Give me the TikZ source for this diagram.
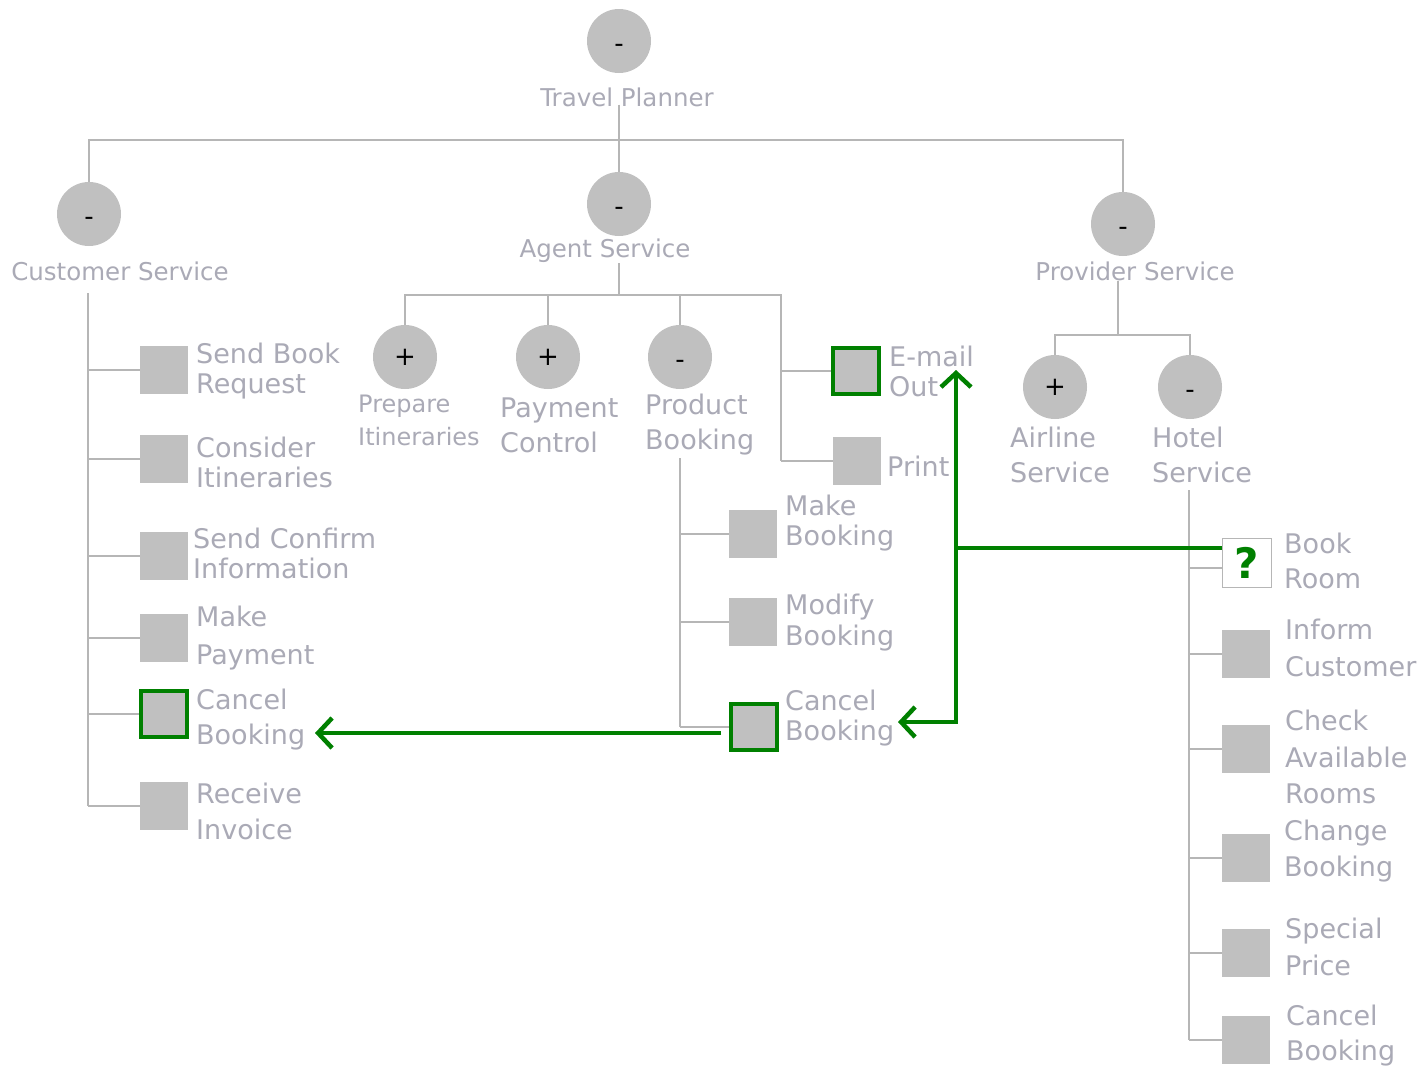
\documentclass[tikz,border=0pt]{standalone}
\usepackage{fontspec}
\setmainfont{DejaVu Sans}
\usetikzlibrary{arrows.meta}
\definecolor{linegray}{RGB}{182,182,182}
\definecolor{boxgray}{RGB}{192,192,192}
\definecolor{txtgray}{RGB}{170,170,182}
\definecolor{linkgreen}{RGB}{0,128,0}
\newcommand\lblfont[1]{\fontsize{27}{#1}\selectfont}
\newcommand\ttlfont{\fontsize{24.5}{29}\selectfont}
\newcommand\smlfont[1]{\fontsize{24}{#1}\selectfont}
\newcommand\minus{\smash{\raisebox{-11pt}{-}}}

\begin{document}
\begin{tikzpicture}[x=1pt,y=-1pt,
  goal/.style={circle, fill=boxgray, minimum size=64pt, inner sep=0pt,
               font=\fontsize{26}{26}\selectfont},
  task/.style={rectangle, fill=boxgray, minimum size=48pt, inner sep=0pt},
  picked/.style={rectangle, fill=boxgray, draw=linkgreen, line width=4pt,
                 minimum size=46pt, inner sep=0pt},
  query/.style={rectangle, fill=white, draw=linegray, line width=1.5pt,
                minimum size=49pt, inner sep=0pt, text=linkgreen,
                font=\bfseries\fontsize{42}{42}\selectfont},
  lbl/.style={text=txtgray, align=left, inner sep=0pt, anchor=west},
  ttl/.style={text=txtgray, inner sep=0pt, font=\ttlfont},
  tree/.style={draw=linegray, line width=2pt},
  link/.style={draw=linkgreen, line width=4.5pt},
  head/.style={-{Straight Barb[length=14pt,width=30pt,line width=4.5pt]}}
]
\useasboundingbox[fill=white] (0,0) rectangle (1424,1068);

% ---- top level ----
\node[goal] (root) at (619,41) {\minus};
\node[ttl] (rootl) at (627,97) {Travel Planner};
\coordinate (topbar) at (619,140);

\node[goal] (cu) at (89,214) {\minus};
\node[ttl] (cul) at (120,271) {Customer Service};
\node[goal] (ag) at (619,204) {\minus};
\node[ttl] (agl) at (605,251) {Agent Service};
\node[goal] (pv) at (1123,224) {\minus};
\node[ttl] (pvl) at (1135,271) {Provider Service};

\draw[tree] ([yshift=2pt]rootl.south -| root) -- (topbar);
\draw[tree] (cu.north) -- (cu.north |- topbar) -- (pv.north |- topbar) -- (pv.north);
\draw[tree] (ag.north) -- (ag.north |- topbar);

% ---- customer service ----
\node[task] (c1) at (164,370) {};
\node[task] (c2) at (164,459) {};
\node[task] (c3) at (164,556) {};
\node[task] (c4) at (164,638) {};
\node[picked] (c5) at (164,714) {};
\node[task] (c6) at (164,806) {};
\node[lbl, font=\lblfont{30}] (c1l) at (196,371) {Send Book\\Request};
\node[lbl, font=\lblfont{30}] (c2l) at (196,462) {Consider\\Itineraries};
\node[lbl, font=\lblfont{30}] (c3l) at (193,553) {Send Confirm\\Information};
\node[lbl, font=\lblfont{38}] (c4l) at (196,638) {Make\\Payment};
\node[lbl, font=\lblfont{35}] (c5l) at (196,720) {Cancel\\Booking};
\node[lbl, font=\lblfont{36}] (c6l) at (196,811) {Receive\\Invoice};

\coordinate (cutrunk) at (88,293);
\draw[tree] (cutrunk) -- (cutrunk |- c6);
\foreach \n in {c1,c2,c3,c4,c5,c6}
  \draw[tree] (cutrunk |- \n.west) -- (\n.west);

% ---- agent service ----
\coordinate (abar) at (619,295);
\coordinate (ajunc) at (781,295);
\node[goal] (pi) at (405,357) {+};
\node[goal] (pc) at (548,357) {+};
\node[goal] (pb) at (680,357) {\minus};
\node[picked] (em) at (856,371) {};
\node[task] (pr) at (857,461) {};

\draw[tree] (agl.south -| abar) -- (abar);
\draw[tree] (pi.north) -- (pi.north |- abar) -- (ajunc) -- (ajunc |- pr);
\draw[tree] (pc.north) -- (pc.north |- abar);
\draw[tree] (pb.north) -- (pb.north |- abar);
\draw[tree] (ajunc |- em) -- (em.west);
\draw[tree] (ajunc |- pr) -- (pr.west);

\node[lbl, font=\smlfont{33}] (pil) at (358,420) {Prepare\\Itineraries};
\node[lbl, font=\lblfont{35}] (pcl) at (500,425) {Payment\\Control};
\node[lbl, font=\lblfont{35}] (pbl) at (645,425) {Product\\Booking};
\node[lbl, font=\lblfont{30}] (eml) at (889,371) {E-mail\\Out};
\node[lbl, font=\lblfont{30}] (prl) at (887,466) {Print};

% product booking children
\node[task] (mb) at (753,534) {};
\node[task] (mo) at (753,622) {};
\node[picked] (cb) at (754,727) {};
\node[lbl, font=\lblfont{30}] (mbl) at (785,523) {Make\\Booking};
\node[lbl, font=\lblfont{31}] (mol) at (785,623) {Modify\\Booking};
\node[lbl, font=\lblfont{30}] (cbl) at (785,718) {Cancel\\Booking};

\coordinate (pbtrunk) at (680,458);
\draw[tree] (pbtrunk) -- (pbtrunk |- cb);
\foreach \n in {mb,mo,cb}
  \draw[tree] (pbtrunk |- \n.west) -- (\n.west);

% ---- provider service ----
\coordinate (pbar) at (1118,335);
\node[goal] (al) at (1055,387) {+};
\node[goal] (ho) at (1190,387) {\minus};
\draw[tree] (pvl.south -| pbar) -- (pbar);
\draw[tree] (al.north) -- (al.north |- pbar) -- (ho.north |- pbar) -- (ho.north);
\node[lbl, font=\lblfont{35}] (all) at (1010,455) {Airline\\Service};
\node[lbl, font=\lblfont{35}] (hol) at (1152,455) {Hotel\\Service};

% hotel service children
\node[query] (br) at (1247,563) {?};
\node[task] (ic) at (1246,654) {};
\node[task] (ca) at (1246,749) {};
\node[task] (ch) at (1246,858) {};
\node[task] (sp) at (1246,953) {};
\node[task] (hc) at (1246,1040) {};
\node[lbl, font=\lblfont{35}] (brl) at (1284,561) {Book\\Room};
\node[lbl, font=\lblfont{37}] (icl) at (1285,648) {Inform\\Customer};
\node[lbl, font=\lblfont{36.5}] (cal) at (1285,757) {Check\\Available\\Rooms};
\node[lbl, font=\lblfont{36}] (chl) at (1284,851) {Change\\Booking};
\node[lbl, font=\lblfont{37}] (spl) at (1285,947) {Special\\Price};
\node[lbl, font=\lblfont{35}] (hcl) at (1286,1036) {Cancel\\Booking};

\coordinate (hotrunk) at (1189,490);
\draw[tree] (hotrunk) -- (hotrunk |- hc);
\draw[tree] (hotrunk |- 0,568) -- (br.west |- 0,568);
\foreach \n in {ic,ca,ch,sp,hc}
  \draw[tree] (hotrunk |- \n.west) -- (\n.west);

% ---- cross links ----
\coordinate (gx) at (956,548);
\coordinate (emtip) at (956,370);
\coordinate (cbtip) at (898,722);
\coordinate (cutip) at (315,733);
\draw[link] (br.west |- gx) -- (gx);
\draw[link, head] (gx) -- (emtip);
\draw[link, head] (gx) |- (cbtip);
\draw[link, head] ([xshift=-8pt]cb.west |- cutip) -- (cutip);
\end{tikzpicture}
\end{document}
